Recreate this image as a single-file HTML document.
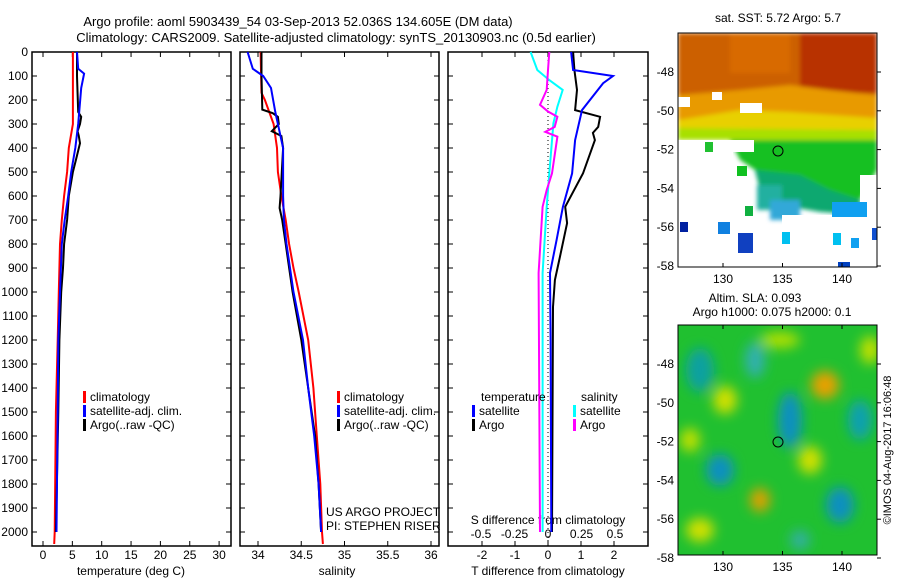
<!DOCTYPE html>
<html><head><meta charset="utf-8"><style>
body{margin:0;background:#fff;width:900px;height:580px;overflow:hidden;font-family:"Liberation Sans",sans-serif}
svg text{font-family:"Liberation Sans",sans-serif;font-size:12px;fill:#000}
</style></head><body>
<svg id="chart" width="900" height="580" xmlns="http://www.w3.org/2000/svg">
<text x="298" y="26" text-anchor="middle" style="font-size:13px">Argo profile: aoml 5903439_54 03-Sep-2013 52.036S 134.605E (DM data)</text>
<text x="336" y="42" text-anchor="middle" style="font-size:13px">Climatology: CARS2009. Satellite-adjusted climatology: synTS_20130903.nc (0.5d earlier)</text>
<g id="maps"></g>
<g id="plots"></g>
<text transform="translate(891,450) rotate(-90)" text-anchor="middle" style="font-size:11px">©IMOS 04-Aug-2017 16:06:48</text>
</svg>
<script>
// ---- data ----
const tDepth=[0,100,250,300,400,500,600,700,800,1000,1200,1500,2000,2050];
const tClim=[5.1,5.1,5.1,5.1,4.4,4.1,3.6,3.2,2.9,2.7,2.5,2.2,2.0,1.9];
const tSatDepth=[0,70,90,150,300,400,500,600,700,800,1000,1200,1500,2000];
const tSat=[5.8,6.0,7.0,6.5,6.0,5.5,4.8,4.3,3.7,3.2,2.9,2.6,2.5,2.3];
const tArgoDepth=[0,100,250,270,300,330,350,380,450,500,600,700,800,900,1000,1200,1500,2000];
const tArgo=[5.8,5.8,6.0,6.5,6.3,5.9,6.1,6.3,5.6,5.1,4.4,4.1,3.6,3.4,3.1,2.8,2.6,2.2];
const sClimDepth=[0,170,200,300,400,500,600,700,800,900,1000,1200,1400,1600,1800,2000,2050];
const sClim=[34.03,34.04,34.08,34.18,34.22,34.23,34.27,34.32,34.36,34.41,34.47,34.58,34.64,34.68,34.72,34.74,34.75];
const sSatDepth=[0,70,100,150,250,300,400,600,700,800,1000,1200,1400,1600,1800,2000];
const sSat=[33.88,33.94,34.06,34.15,34.20,34.23,34.29,34.29,34.30,34.33,34.41,34.52,34.58,34.65,34.70,34.73];
const sArgoDepth=[0,100,240,255,270,300,330,350,400,600,650,700,800,1000,1200,1400,1600,1800,2000];
const sArgo=[34.04,34.04,34.05,34.17,34.23,34.24,34.16,34.27,34.29,34.26,34.25,34.28,34.32,34.40,34.50,34.58,34.66,34.70,34.73];
const dTSatDepth=[0,75,100,130,242,367,506,645,783,921,1200,2000];
const dTSat=[0.70,0.76,1.97,1.67,1.03,0.82,0.73,0.45,0.26,0.06,0.08,0.10];
const dTArgoDepth=[0,75,158,242,270,312,337,367,506,645,713,854,950,1062,2000];
const dTArgo=[0.76,0.80,0.88,0.82,1.58,1.52,1.36,1.42,1.06,0.52,0.58,0.36,0.21,0.15,0.12];
const dSSatDepth=[0,75,117,158,228,297,506,645,921,2000];
const dSSat=[-0.13,-0.08,0.01,0.11,0.07,0.04,0.01,-0.01,-0.04,-0.04];
const dSArgoDepth=[0,75,158,220,248,270,312,333,353,506,575,645,921,2000];
const dSArgo=[0.01,0.0,-0.01,-0.06,0.0,0.07,0.05,-0.02,0.07,0.03,-0.01,-0.04,-0.07,-0.06];
const depthTicks=[0,100,200,300,400,500,600,700,800,900,1000,1100,1200,1300,1400,1500,1600,1700,1800,1900,2000];
const tempTicks=[0,5,10,15,20,25,30];
const salTicks=[34,34.5,35,35.5,36];
const tdTicks=[-2,-1,0,1,2];
const sdTicks=[-0.5,-0.25,0,0.25,0.5];
const sdTickLabels=["-0.5","-0.25","0","0.25","0.5"];
const latTicks=[-48,-50,-52,-54,-56,-58];
const lonTicks=[130,135,140];

const NS='http://www.w3.org/2000/svg';
function mk(tag,attrs,parent){const e=document.createElementNS(NS,tag);for(const k in attrs)e.setAttribute(k,attrs[k]);parent.appendChild(e);return e;}
const plots=document.getElementById('plots');
const Y=d=>52+d*0.24;
const pTop=52,pBot=546;
const panels=[
 {x0:32,x1:231,X:v=>43+v*5.87,name:'temperature-panel'},
 {x0:240,x1:439,X:v=>258+(v-34)*86.5,name:'salinity-panel'},
 {x0:448,x1:648,X:v=>548+v*33,name:'difference-panel'}
];
const XS=v=>548+v*134;
panels.forEach(p=>{
 const r=mk('rect',{x:p.x0,y:pTop,width:p.x1-p.x0,height:pBot-pTop,fill:'none',stroke:'#000','stroke-width':1.5},plots);
 
 
 depthTicks.forEach(d=>{
  mk('line',{x1:p.x0,x2:p.x0+5,y1:Y(d),y2:Y(d),stroke:'#000'},plots);
  mk('line',{x1:p.x1-5,x2:p.x1,y1:Y(d),y2:Y(d),stroke:'#000'},plots);
 });
});
depthTicks.forEach(d=>{const t=mk('text',{x:28,y:Y(d)+4,'text-anchor':'end'},plots);t.textContent=d;
 
 });
function xticks(vals,labels,X,yl){
 vals.forEach((v,i)=>{const x=X(v);
  mk('line',{x1:x,x2:x,y1:pBot,y2:pBot-5,stroke:'#000'},plots);
  mk('line',{x1:x,x2:x,y1:pTop,y2:pTop+5,stroke:'#000'},plots);
  const t=mk('text',{x:x,y:yl,'text-anchor':'middle'},plots);t.textContent=labels[i];
  
  });
}
xticks(tempTicks,tempTicks,panels[0].X,559);
xticks(salTicks,salTicks,panels[1].X,559);
xticks(tdTicks,tdTicks,panels[2].X,559);
sdTicks.forEach((v,i)=>{const t=mk('text',{x:XS(v),y:538,'text-anchor':'middle'},plots);t.textContent=sdTickLabels[i];
 
 });
function label(x,y,txt,name,anchor){const t=mk('text',{x:x,y:y,'text-anchor':anchor||'middle'},plots);t.textContent=txt;
 
 return t;}
label(131,575,'temperature (deg C)','temperature-axis-title');
label(337,575,'salinity','salinity-axis-title');
label(548,575,'T difference from climatology','t-diff-axis-title');
label(548,524,'S difference from climatology','s-diff-axis-title');
label(326,516,'US ARGO PROJECT','project-label','start');
label(326,530,'PI: STEPHEN RISER','pi-label','start');
mk('line',{x1:548,x2:548,y1:pTop,y2:pBot,stroke:'#000','stroke-dasharray':'1,3'},plots);
function line(depths,vals,X,color,name,w){
 const pts=depths.map((d,i)=>X(vals[i]).toFixed(1)+','+Y(d).toFixed(1)).join(' ');
 const l=mk('polyline',{points:pts,fill:'none',stroke:color,'stroke-width':w||2},plots);
 
 
}
line(tDepth,tClim,panels[0].X,'#f00','temp-climatology-line');
line(tArgoDepth,tArgo,panels[0].X,'#000','temp-argo-line');
line(tSatDepth,tSat,panels[0].X,'#00f','temp-satellite-line');
line(sClimDepth,sClim,panels[1].X,'#f00','sal-climatology-line');
line(sArgoDepth,sArgo,panels[1].X,'#000','sal-argo-line');
line(sSatDepth,sSat,panels[1].X,'#00f','sal-satellite-line');
line(dTArgoDepth,dTArgo,panels[2].X,'#000','tdiff-argo-line');
line(dTSatDepth,dTSat,panels[2].X,'#00f','tdiff-satellite-line');
line(dSSatDepth,dSSat,XS,'#0ff','sdiff-satellite-line');
line(dSArgoDepth,dSArgo,XS,'#f0f','sdiff-argo-line');
function leg(x,y,color,txt,name){mk('rect',{x:x,y:y-10,width:3,height:12,fill:color},plots);
 label(x+7,y,txt,name,'start');}
[[83,401,'#f00','climatology'],[83,415,'#00f','satellite-adj. clim.'],[83,429,'#000','Argo(..raw -QC)']].forEach(a=>leg(a[0],a[1],a[2],a[3],'legend-entry'));
[[337,401,'#f00','climatology'],[337,415,'#00f','satellite-adj. clim.'],[337,429,'#000','Argo(..raw -QC)']].forEach(a=>leg(a[0],a[1],a[2],a[3],'legend-entry'));
label(481,401,'temperature','legend-temperature-header','start');
label(581,401,'salinity','legend-salinity-header','start');
[[472,415,'#00f','satellite'],[472,429,'#000','Argo'],[573,415,'#0ff','satellite'],[573,429,'#f0f','Argo']].forEach(a=>leg(a[0],a[1],a[2],a[3],'legend-entry'));

// ---- maps ----
const maps=document.getElementById('maps');
mk('defs',{},maps).innerHTML=`
<filter id="bl"><feGaussianBlur stdDeviation="6"/></filter>
<filter id="bl2"><feGaussianBlur stdDeviation="2"/></filter>
<clipPath id="c1"><rect x="678" y="33" width="199" height="234"/></clipPath>
<clipPath id="c2"><rect x="678" y="325" width="199" height="230"/></clipPath>`;
const m1=mk('g',{'clip-path':'url(#c1)'},maps);


m1.innerHTML=`<rect x="678" y="33" width="199" height="234" fill="#fff"/>
<g filter="url(#bl2)">
<rect x="678" y="33" width="199" height="80" fill="#cc6000"/>
<rect x="800" y="33" width="77" height="60" fill="#b83000"/>
<rect x="730" y="33" width="60" height="40" fill="#d86a00"/>
<polygon points="678,95 740,90 790,85 830,90 877,95 877,130 678,135" fill="#e89a00"/>
<polygon points="678,120 740,110 790,112 877,118 877,140 678,140" fill="#e8d000"/>
<polygon points="678,128 877,130 877,140 678,140" fill="#a8e000"/>
<polygon points="730,140 790,140 877,140 877,170 860,200 860,215 820,210 790,200 760,190 755,170 740,160" fill="#18c020"/>
<polygon points="755,170 800,175 830,190 860,200 862,215 820,212 780,205 760,190" fill="#10a870"/>
<rect x="757" y="185" width="25" height="25" fill="#20b0a0"/>
<rect x="770" y="200" width="30" height="20" fill="#30a8d8"/>
</g>
<rect x="678" y="97" width="12" height="10" fill="#fff"/>
<rect x="712" y="92" width="10" height="8" fill="#fff"/>
<rect x="740" y="103" width="22" height="10" fill="#fff"/>
<rect x="678" y="140" width="55" height="127" fill="#fff"/>
<rect x="706" y="140" width="48" height="12" fill="#fff"/>
<rect x="705" y="142" width="8" height="10" fill="#20c030"/>
<rect x="737" y="166" width="10" height="10" fill="#10c020"/>
<rect x="782" y="215" width="95" height="52" fill="#fff"/>
<rect x="860" y="175" width="17" height="30" fill="#fff"/>
<rect x="680" y="222" width="8" height="10" fill="#0020a0"/>
<rect x="718" y="222" width="12" height="12" fill="#1080e0"/>
<rect x="738" y="233" width="15" height="20" fill="#1040c0"/>
<rect x="782" y="232" width="8" height="12" fill="#00c0f0"/>
<rect x="833" y="233" width="8" height="12" fill="#00c0f0"/>
<rect x="851" y="238" width="8" height="10" fill="#10a0f0"/>
<rect x="745" y="206" width="8" height="10" fill="#10b040"/>
<rect x="832" y="202" width="35" height="15" fill="#10a0f0"/>
<rect x="838" y="262" width="12" height="8" fill="#0040c0"/>
<rect x="872" y="228" width="6" height="12" fill="#1050d0"/>
<circle cx="778" cy="151" r="5" fill="none" stroke="#000"/>`;
const m2=mk('g',{'clip-path':'url(#c2)'},maps);


m2.innerHTML=`<rect x="678" y="325" width="199" height="230" fill="#20c030"/>
<g filter="url(#bl)">
<ellipse cx="700" cy="370" rx="14" ry="22" fill="#10a0a0"/>
<ellipse cx="755" cy="360" rx="10" ry="18" fill="#30b0b0"/>
<ellipse cx="790" cy="420" rx="12" ry="28" fill="#1090c0"/>
<ellipse cx="825" cy="385" rx="14" ry="14" fill="#e8a000"/>
<ellipse cx="725" cy="400" rx="12" ry="14" fill="#d0e000"/>
<ellipse cx="860" cy="420" rx="12" ry="20" fill="#10a0b0"/>
<ellipse cx="720" cy="470" rx="14" ry="16" fill="#1090c0"/>
<ellipse cx="690" cy="440" rx="10" ry="12" fill="#c0e000"/>
<ellipse cx="810" cy="460" rx="12" ry="14" fill="#d0e000"/>
<ellipse cx="760" cy="500" rx="10" ry="12" fill="#e0a000"/>
<ellipse cx="840" cy="505" rx="14" ry="18" fill="#1090c0"/>
<ellipse cx="700" cy="530" rx="14" ry="12" fill="#d0e000"/>
<ellipse cx="800" cy="540" rx="10" ry="10" fill="#30b0a0"/>
<ellipse cx="870" cy="350" rx="10" ry="14" fill="#c0e000"/>
<ellipse cx="780" cy="340" rx="20" ry="8" fill="#b0e000"/>
</g>
<circle cx="778" cy="442" r="5" fill="none" stroke="#000"/>`;
mk('rect',{x:678,y:33,width:199,height:234,fill:'none',stroke:'#000'},maps);
mk('rect',{x:678,y:325,width:199,height:230,fill:'none',stroke:'#000'},maps);
const latY1=v=>72+(v+48)*-19.4, latY2=v=>364+(v+48)*-19.4;
const lonX=v=>723+(v-130)*11.9;
function mtext(x,y,txt,a,name){const t=mk('text',{x:x,y:y,'text-anchor':a},maps);t.textContent=txt;
 
 }
latTicks.forEach(v=>{
 [latY1(v),latY2(v)].forEach(y=>{mk('line',{x1:877,x2:881,y1:y,y2:y,stroke:'#000'},maps);mtext(674,y+4,v,'end','lat-tick-label');});
});
lonTicks.forEach(v=>{const x=lonX(v);
 mk('line',{x1:x,x2:x,y1:267,y2:263,stroke:'#000'},maps);
 mk('line',{x1:x,x2:x,y1:325,y2:329,stroke:'#000'},maps);
 mk('line',{x1:x,x2:x,y1:555,y2:551,stroke:'#000'},maps);
 mtext(x,283,v,'middle','lon-tick-label');mtext(x,571,v,'middle','lon-tick-label');});
mtext(778,22,'sat. SST: 5.72 Argo: 5.7','middle','sst-map-title');
mtext(755,302,'Altim. SLA: 0.093','middle','sla-map-title');
mtext(772,316,'Argo h1000: 0.075 h2000: 0.1','middle','sla-map-subtitle');
</script>
</body></html>
